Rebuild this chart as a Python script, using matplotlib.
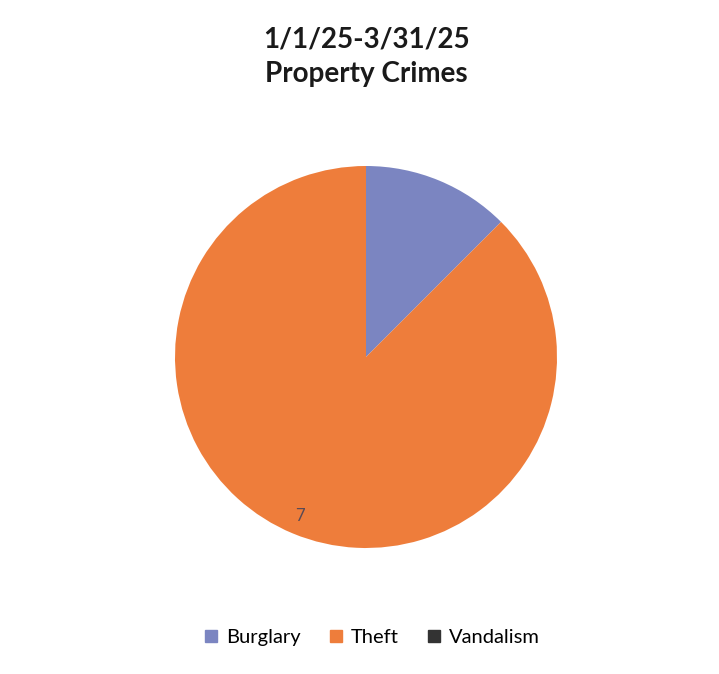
import matplotlib
matplotlib.use("Agg")
import matplotlib.pyplot as plt
from matplotlib.lines import Line2D
import numpy as np

categories = ["Burglary", "Theft", "Vandalism"]
values = [1, 7, 0]
colors = ["#7b85c1", "#ee7d3b", "#333333"]
title = "1/1/25-3/31/25\nProperty Crimes"

W, H = 719, 674
fig = plt.figure(figsize=(W / 100, H / 100), dpi=100)
cx, cy, r = 366, 357, 191
ax = fig.add_axes([(cx - r) / W, (H - cy - r) / H, 2 * r / W, 2 * r / H])

nz = [(c, v, col) for c, v, col in zip(categories, values, colors) if v > 0]
wedges, texts = ax.pie([v for _, v, _ in nz], colors=[col for _, _, col in nz],
                       startangle=90, counterclock=False, radius=1,
                       wedgeprops=dict(linewidth=0))
theta = 90 - 360 * (values[0] + values[1] / 2) / sum(values)
ax.text(0.9 * np.cos(np.radians(theta)), 0.9 * np.sin(np.radians(theta)), str(values[1]),
        ha="center", va="center", fontsize=12, color="#5a4a55", family="Lato")
ax.set_xlim(-1, 1)
ax.set_ylim(-1, 1)
ax.set_aspect("equal")
ax.axis("off")

fig.text(cx / W, 1 - 57 / H, title, ha="center", va="center", fontsize=20,
         fontweight="bold", family="Lato", color="#1a1a1a", linespacing=1.4)

handles = [Line2D([0], [0], marker="s", linestyle="none", markersize=8,
                  markerfacecolor=col, markeredgecolor=col) for col in colors]
fig.legend(handles, categories, loc="center", bbox_to_anchor=(372 / W, 1 - 637 / H),
           ncol=3, frameon=False, handlelength=0.7, handletextpad=0.4,
           columnspacing=1.4, prop=dict(family="Lato", size=14.5))
fig.savefig("out.png", dpi=100, facecolor="white")
